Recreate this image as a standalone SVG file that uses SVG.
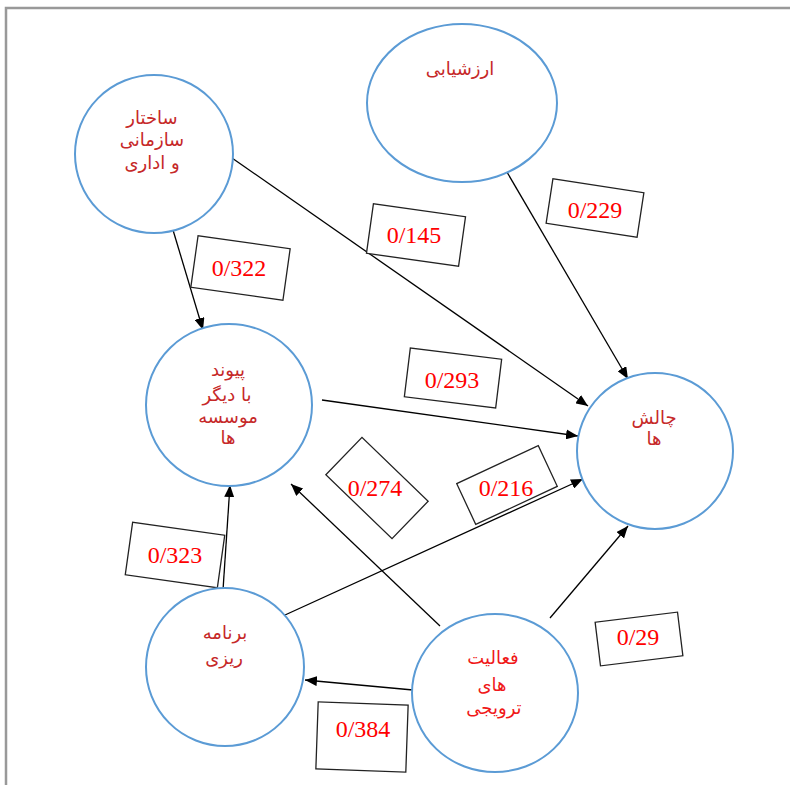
<svg xmlns="http://www.w3.org/2000/svg" width="790" height="785" viewBox="0 0 790 785">
<defs>
<marker id="ah" markerUnits="userSpaceOnUse" markerWidth="13" markerHeight="10" refX="12" refY="5" orient="auto">
<path d="M0,0 L12,5 L0,10 z" fill="#000"/>
</marker>
<style>
.node{fill:#fff;stroke:#5B9BD5;stroke-width:2}
.nt{font-family:"DejaVu Sans",sans-serif;font-size:18px;fill:#C62828;text-anchor:middle}
.nt2{fill:#F01818}
.lb{fill:#fff;stroke:#222;stroke-width:1.3}
.lt{font-family:"Liberation Serif",serif;font-size:24px;fill:#FF0000;text-anchor:middle}
.cn{stroke:#000;stroke-width:1.3;fill:none;marker-end:url(#ah)}
</style>
</defs>
<rect x="0" y="0" width="790" height="785" fill="#fff"/>
<path d="M6,785 L6,8 L790,8" fill="none" stroke="#999" stroke-width="2.5"/>

<g id="connectors">
<line class="cn" x1="173" y1="230" x2="203" y2="330"/>
<line class="cn" x1="232" y1="158" x2="588" y2="406"/>
<line class="cn" x1="504" y1="167" x2="628" y2="379"/>
<line class="cn" x1="322" y1="400" x2="578" y2="436"/>
<line class="cn" x1="285" y1="615" x2="583" y2="479"/>
<line class="cn" x1="440" y1="626" x2="291" y2="484"/>
<line class="cn" x1="550" y1="618" x2="628" y2="526"/>
<line class="cn" x1="413" y1="690" x2="305" y2="680"/>
<line class="cn" x1="223" y1="590" x2="230" y2="485"/>
</g>

<g id="labels">
<g id="l322"><rect class="lb" x="-46.5" y="-26" width="93" height="52" transform="translate(240.5,268) rotate(8)"/><text class="lt" x="239" y="276">0/322</text></g>
<g id="l145"><rect class="lb" x="-46.5" y="-25" width="93" height="50" transform="translate(416,235) rotate(8)"/><text class="lt" x="414" y="243">0/145</text></g>
<g id="l229"><rect class="lb" x="-46" y="-22.5" width="92" height="45" transform="translate(595,208) rotate(8.7)"/><text class="lt" x="595" y="218">0/229</text></g>
<g id="l293"><rect class="lb" x="-46" y="-24.5" width="92" height="49" transform="translate(453,378) rotate(7)"/><text class="lt" x="452" y="388">0/293</text></g>
<g id="l274"><rect class="lb" x="-46" y="-26" width="92" height="52" transform="translate(377,488) rotate(44)"/><text class="lt" x="375" y="496">0/274</text></g>
<g id="l216"><rect class="lb" x="-45" y="-22.5" width="90" height="45" transform="translate(507,485) rotate(-25)"/><text class="lt" x="506" y="496">0/216</text></g>
<g id="l323"><rect class="lb" x="-46.5" y="-26.5" width="93" height="53" transform="translate(175,555) rotate(8)"/><text class="lt" x="175" y="563">0/323</text></g>
<g id="l29"><rect class="lb" x="-41.5" y="-22" width="83" height="44" transform="translate(639,639) rotate(-7)"/><text class="lt" x="638" y="645">0/29</text></g>
<g id="l384"><rect class="lb" x="-45" y="-33.5" width="90" height="67" transform="translate(362,737) rotate(2)"/><text class="lt" x="363" y="737">0/384</text></g>
</g>

<g id="n-sakhtar">
<circle class="node" cx="154" cy="154" r="79"/>
<text class="nt" x="152" y="124">ساختار</text>
<text class="nt" x="152" y="146">سازمانی</text>
<text class="nt" x="152" y="169">و اداری</text>
</g>
<g id="n-arzeshyabi">
<ellipse class="node" cx="462" cy="103" rx="95" ry="79"/>
<text class="nt" x="460" y="75">ارزشیابی</text>
</g>
<g id="n-peyvand">
<ellipse class="node" cx="229" cy="405" rx="83" ry="81"/>
<text class="nt" x="228" y="376">پیوند</text>
<text class="nt" x="227" y="401">با دیگر</text>
<text class="nt" x="228" y="423">موسسه</text>
<text class="nt" x="228" y="444">ها</text>
</g>
<g id="n-chalesh">
<circle class="node" cx="655" cy="451" r="78"/>
<text class="nt" x="654" y="424">چالش</text>
<text class="nt" x="654" y="445">ها</text>
</g>
<g id="n-barnameh">
<circle class="node" cx="225" cy="667" r="79"/>
<text class="nt" x="225" y="639">برنامه</text>
<text class="nt" x="224" y="664">ریزی</text>
</g>
<g id="n-faaliat">
<ellipse class="node" cx="495" cy="693" rx="83" ry="79"/>
<text class="nt nt2" x="493" y="664">فعالیت</text>
<text class="nt nt2" x="492" y="691">های</text>
<text class="nt nt2" x="494" y="714">ترویجی</text>
</g>
</svg>
